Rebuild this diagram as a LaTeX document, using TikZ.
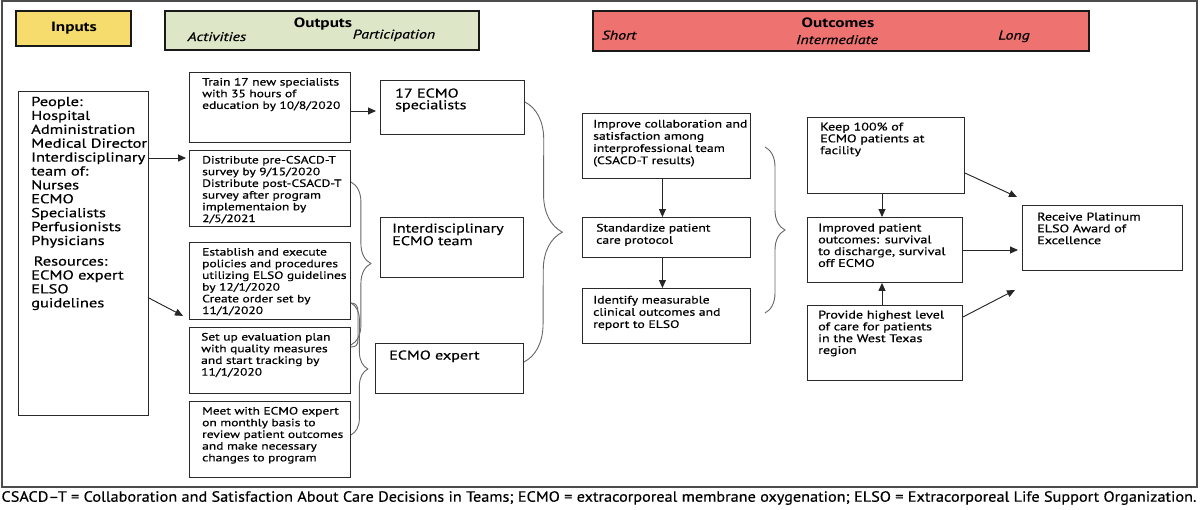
\documentclass[tikz,border=0pt]{standalone}
\usepackage{fontspec}
\setmainfont{PT Sans}[FakeStretch=1.27, UprightFeatures={FakeBold=0.6}, ItalicFeatures={FakeBold=0.6}]
\newfontfamily\footfont{PT Sans}[FakeStretch=1.1, FakeBold=0.4]
\usetikzlibrary{arrows.meta,decorations.pathreplacing,calc}
\definecolor{inyel}{HTML}{F6DC6C}
\definecolor{outgrn}{HTML}{DDE7C7}
\definecolor{outred}{HTML}{EE7370}
\definecolor{boxln}{HTML}{2A2A2A}
\newcommand{\bx}[6]{\node[#6, minimum width={(#4-#2)*1pt}, minimum height={(#5-#3)*1pt}, anchor=north west, inner sep=0pt] (#1) at (#2,#3) {};}
\newcommand{\tx}[6]{\node[anchor=base west, inner sep=0pt, text width=#4pt, align=left, font=#5] (#1) at (#2,#3) {#6};}
\newcommand{\fin}{\fontsize{13}{13.9}\selectfont}
\newcommand{\fact}{\fontsize{10.6}{11.7}\selectfont}
\newcommand{\fpar}{\fontsize{12.7}{11.7}\selectfont}
\newcommand{\fout}{\fontsize{10.8}{12.2}\selectfont}
\newcommand{\fmid}{\fontsize{11.1}{11.8}\selectfont}
\newcommand{\fhb}{\fontsize{13.5}{14}\selectfont\bfseries}
\newcommand{\fhi}{\fontsize{12.5}{13}\selectfont\itshape}
\begin{document}
\begin{tikzpicture}[x=1pt,y=-1pt,
  hdr/.style={draw=black!90, line width=1.7pt},
  bxs/.style={draw=boxln, line width=0.9pt},
  arr/.style={-{Triangle[length=8pt,width=7pt]}, line width=0.9pt, draw=black!85, fill=black!85},
  brc/.style={draw=black!60, line width=0.9pt}]
\useasboundingbox (0,0) rectangle (1200,509);
\fill[white] (0,0) rectangle (1200,509);
\draw[line width=1.2pt, black!70] (2,1) rectangle (1197,487);
% headers
\bx{hin}{15}{10}{130}{45}{hdr, fill=inyel}
\bx{hout}{164}{10}{478}{49}{hdr, fill=outgrn}
\bx{hoc}{592}{10}{1088}{50}{hdr, fill=outred}
\node[anchor=base, inner sep=0pt, font=\fhb] (tin) at (74,31.5) {Inputs};
\node[anchor=base, inner sep=0pt, font=\fhb] (tout) at (323,27.5) {Outputs};
\node[anchor=base, inner sep=0pt, font=\fhi] (tact) at (217,41) {Activities};
\node[anchor=base, inner sep=0pt, font=\fhi] (tpar) at (394,38.5) {Participation};
\node[anchor=base, inner sep=0pt, font=\fhb] (toc) at (838,27.5) {Outcomes};
\node[anchor=base, inner sep=0pt, font=\fhi] (tsh) at (619,39.5) {Short};
\node[anchor=base, inner sep=0pt, font=\fhi] (tim) at (837,44) {Intermediate};
\node[anchor=base, inner sep=0pt, font=\fhi] (tlo) at (1014,39.5) {Long};
% inputs
\bx{inp}{18}{91}{148}{415}{bxs}
\tx{inpt}{31}{106}{200}{\fin}{People:\\Hospital\\Administration\\Medical Director\\Interdisciplinary\\team of:\\Nurses\\ECMO\\Specialists\\Perfusionists\\Physicians\\[6.7pt]\hspace*{2.5pt}Resources:\\ECMO expert\\ELSO\\guidelines}
% activities
\bx{train}{189}{72}{350}{142}{bxs}
\bx{dist}{189}{150}{350}{226}{bxs}
\bx{est}{189}{242}{350}{319}{bxs}
\bx{setup}{189}{327}{350}{393}{bxs}
\bx{meet}{189}{401}{350}{477}{bxs}
\tx{traint}{202}{85.5}{200}{\fact}{Train 17 new specialists\\with 35 hours of\\education by 10/8/2020}
\tx{distt}{202}{163.5}{200}{\fact}{Distribute pre-CSACD-T\\survey by 9/15/2020\\Distribute post-CSACD-T\\survey after program\\implementaion by\\2/5/2021}
\tx{estt}{202}{255.5}{200}{\fact}{Establish and execute\\policies and procedures\\utilizing ELSO guidelines\\by 12/1/2020\\Create order set by\\11/1/2020}
\tx{setupt}{201}{340.5}{200}{\fact}{Set up evaluation plan\\with quality measures\\and start tracking by\\11/1/2020}
\tx{meett}{202}{414.5}{200}{\fact}{Meet with ECMO expert\\on monthly basis to\\review patient outcomes\\and make necessary\\changes to program}
% participation
\bx{spec}{380}{80}{524}{134}{bxs}
\bx{team}{380}{217}{523}{277}{bxs}
\bx{expert}{375}{343}{523}{393}{bxs}
\tx{spect}{395}{97.5}{200}{\fpar}{17 ECMO\\specialists}
\tx{teamt}{392}{232.5}{200}{\fontsize{12.7}{11.2}\selectfont}{Interdisciplinary\\ECMO team}
\tx{expertt}{389}{359.5}{200}{\fpar}{ECMO expert}
% short outcomes
\bx{imp}{582}{113}{750}{178}{bxs}
\bx{std}{582}{217}{750}{257}{bxs}
\bx{idn}{582}{288}{750}{343}{bxs}
\tx{impt}{593}{127.5}{200}{\fout}{Improve collaboration and\\satisfaction among\\interprofessional team\\(CSACD-T results)}
\tx{stdt}{596}{231.5}{200}{\fout}{Standardize patient\\care protocol}
\tx{idnt}{593}{303.5}{200}{\fout}{Identify measurable\\clinical outcomes and\\report to ELSO}
% intermediate
\bx{keep}{807}{117}{964}{193}{bxs}
\bx{impd}{807}{217}{962}{282}{bxs}
\bx{prov}{807}{305}{962}{380}{bxs}
\tx{keept}{820}{130.5}{200}{\fmid}{Keep 100\% of\\ECMO patients at\\facility}
\tx{impdt}{818}{231.5}{200}{\fmid}{Improved patient\\outcomes: survival\\to discharge, survival\\off ECMO}
\tx{provt}{818}{318.5}{200}{\fmid}{Provide highest level\\of care for patients\\in the West Texas\\region}
% long
\bx{rcv}{1022}{205}{1182}{270}{bxs}
\tx{rcvt}{1037}{220.5}{200}{\fmid}{Receive Platinum\\ELSO Award of\\Excellence}
% arrows
\draw[arr, shorten >=3pt] (inp.east |- 0,158) -- (dist.west |- 0,158);
\draw[arr] (inp.east |- 0,298) -- ($(est.south west)+(-6,-4)$);
\draw[arr, shorten >=4pt] (train.east |- 0,111) -- (spec.west |- 0,111);
\draw[arr] ([xshift=-4pt]imp.south) -- ([xshift=-4pt]std.north);
\draw[arr] ([xshift=-4pt]std.south) -- ([xshift=-4pt]idn.north);
\draw[arr] (882,0 |- keep.south) -- (882,0 |- impd.north);
\draw[arr] (882,0 |- prov.north) -- (882,0 |- impd.south);
\draw[arr, shorten >=4pt] (impd.east |- 0,250) -- (rcv.west |- 0,250);
\coordinate (kend) at (1017,197);
\coordinate (pend) at (1015,290);
\draw[arr] (keep.east |- 0,173) -- (kend);
\draw[arr] (prov.east |- 0,317) -- (pend);
% braces
\draw[brc, decorate, decoration={brace, amplitude=20pt}] (dist.east |- 0,182) -- (setup.east |- 0,345);
\draw[brc] (est.east |- 0,303) .. controls (356,303) and (358,306) .. (358,312) -- (358,339) .. controls (358,345) and (356,347) .. (setup.east |- 0,347);
\draw[brc, decorate, decoration={brace, amplitude=17pt}] (est.east |- 0,303) -- (meet.east |- 0,435);
\draw[brc, decorate, decoration={brace, amplitude=38pt}] (spec.east |- 0,102) -- (expert.east |- 0,362);
\coordinate (b5a) at (765,147);
\coordinate (b5b) at (765,313);
\draw[brc, decorate, decoration={brace, amplitude=20pt}] (b5a) -- (b5b);
% footer
\node[anchor=center, inner sep=0pt, font=\footfont\fontsize{11.5}{12}\selectfont] (foot) at (599,498) {\resizebox{1195pt}{!}{CSACD–T = Collaboration and Satisfaction About Care Decisions in Teams; ECMO = extracorporeal membrane oxygenation; ELSO = Extracorporeal Life Support Organization.}};
\end{tikzpicture}
\end{document}
